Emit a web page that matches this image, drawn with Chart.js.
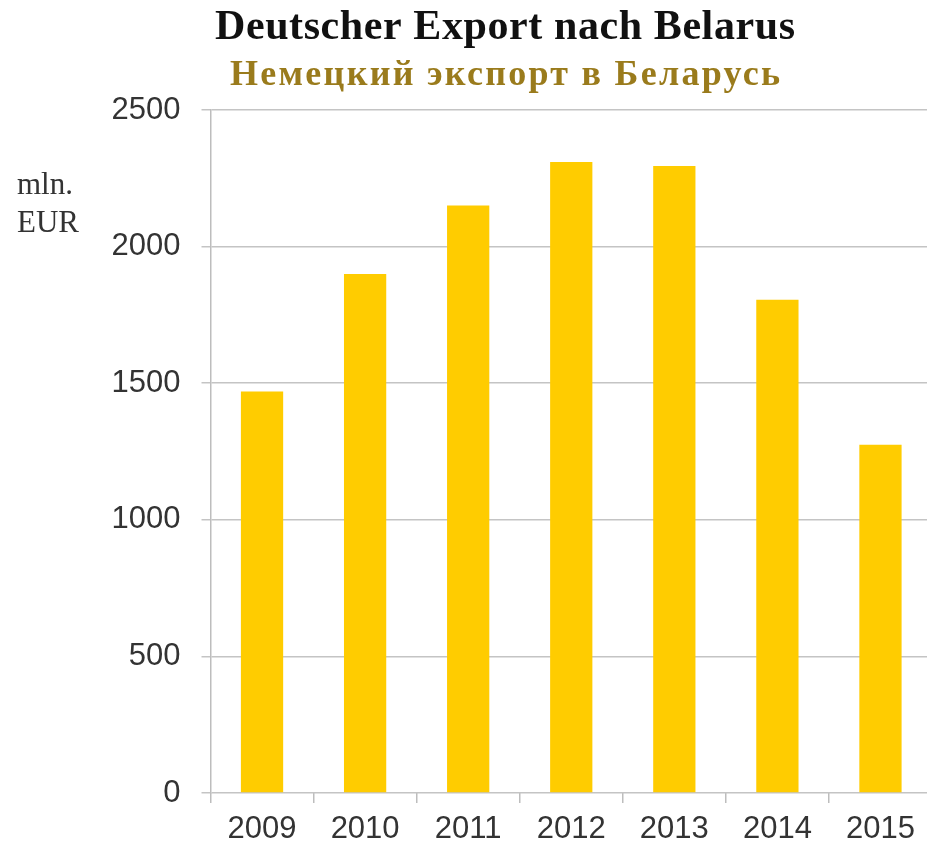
<!DOCTYPE html>
<html>
<head>
<meta charset="utf-8">
<script src="https://cdn.jsdelivr.net/npm/chart.js@4.4.1/dist/chart.umd.min.js"></script>
<style>
  html, body { margin: 0; padding: 0; background: #ffffff; overflow: hidden; }
  #wrap { width: 933px; height: 856px; position: relative; }
</style>
</head>
<body>
<div id="wrap"><canvas id="c" width="933" height="856"></canvas></div>
<script>
// ---- Data ----
const years = ['2009', '2010', '2011', '2012', '2013', '2014', '2015'];
const exportValues = [1470, 1900, 2150, 2310, 2295, 1805, 1275];
const yTickMin = 0;
const yTickMax = 2500;
const yTickStep = 500;

// ---- Texts ----
const titleText = 'Deutscher Export nach Belarus';
const subtitleText = 'Немецкий экспорт в Беларусь';
const unitLines = ['mln.', 'EUR'];

function drawFitted(ctx, text, font, color, cx, baseline, targetWidth) {
  ctx.font = font;
  ctx.fillStyle = color;
  ctx.textBaseline = 'alphabetic';
  ctx.textAlign = 'left';
  ctx.letterSpacing = '0px';
  const w = ctx.measureText(text).width;
  const n = text.length;
  let ls = (targetWidth - w) / Math.max(n - 1, 1);
  ctx.letterSpacing = ls.toFixed(2) + 'px';
  const w2 = ctx.measureText(text).width - ls;
  ctx.fillText(text, cx - w2 / 2, baseline);
  ctx.letterSpacing = '0px';
}

const textPlugin = {
  id: 'textPlugin',
  afterDraw(chart) {
    const ctx = chart.ctx;
    ctx.save();
    drawFitted(ctx, titleText, 'bold 42px "Liberation Serif", "Times New Roman", serif', '#111111', 505, 39, 580);
    drawFitted(ctx, subtitleText, 'bold 36px "Liberation Serif", "Times New Roman", serif', '#9A7B1C', 505, 85, 550);
    ctx.font = '31px "Liberation Serif", "Times New Roman", serif';
    ctx.fillStyle = '#333333';
    ctx.textAlign = 'left';
    ctx.textBaseline = 'alphabetic';
    ctx.fillText(unitLines[0], 17, 194);
    ctx.fillText(unitLines[1], 17, 232);
    ctx.restore();
  }
};

new Chart(document.getElementById('c'), {
  type: 'bar',
  data: {
    labels: years,
    datasets: [{
      data: exportValues,
      backgroundColor: '#FFCC00',
      borderWidth: 0,
      categoryPercentage: 1.0,
      barPercentage: 0.41
    }]
  },
  options: {
    responsive: false,
    devicePixelRatio: 1,
    animation: false,
    layout: { padding: { top: 110, right: 1, bottom: 0, left: 0 } },
    plugins: {
      legend: { display: false },
      title: { display: false },
      tooltip: { enabled: false }
    },
    scales: {
      x: {
        offset: true,
        grid: {
          offset: true,
          drawOnChartArea: false,
          drawTicks: true,
          tickLength: 10,
          color: '#bdbdbd',
          lineWidth: 1.5
        },
        border: { display: false },
        ticks: {
          color: '#333333',
          font: { family: '"Liberation Sans", Arial, sans-serif', size: 31, lineHeight: 1.0 },
          padding: 11,
          maxRotation: 0,
          autoSkip: false
        }
      },
      y: {
        min: yTickMin,
        max: yTickMax,
        afterFit(scale) { scale.width = 210.5; },
        grid: {
          color: '#c4c4c4',
          lineWidth: 1.5,
          tickLength: 9,
          drawTicks: true
        },
        border: { display: true, color: '#bdbdbd', width: 1.5 },
        ticks: {
          stepSize: yTickStep,
          color: '#333333',
          font: { family: '"Liberation Sans", Arial, sans-serif', size: 31 },
          padding: 21,
          callback: (value) => String(value)
        }
      }
    }
  },
  plugins: [textPlugin]
});
</script>
</body>
</html>
